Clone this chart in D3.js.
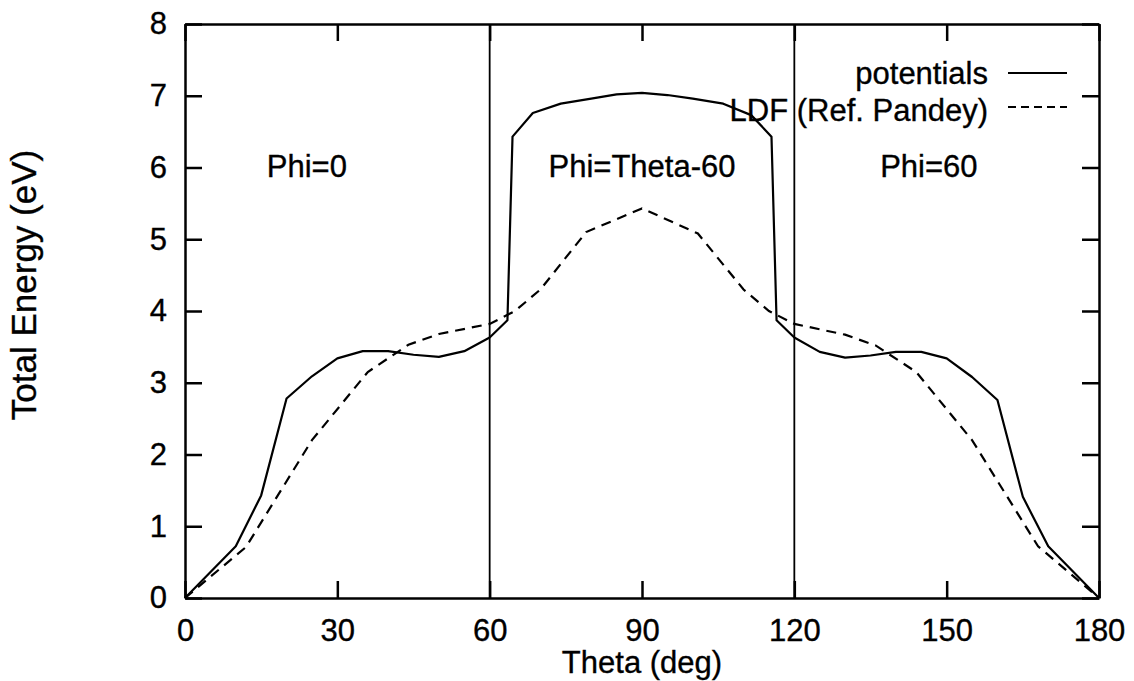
<!DOCTYPE html>
<html>
<head>
<meta charset="utf-8">
<script src="https://cdn.jsdelivr.net/npm/d3@7"></script>
<style>
	body { margin: 0; background: #fff; }
	svg { display: block; font-family: "Liberation Sans", Arial, sans-serif; }
	.axis path, .axis line { stroke: #000; }
	text { stroke: #000; stroke-width: 0.35px; }
</style>
</head>
<body>
<svg id="chart" width="1134" height="681"></svg>
<script>
// theta (deg) / total energy (eV)
const potTheta = [0, 10, 15, 20, 25, 30, 35, 40, 45, 50, 55, 60, 63.5, 64.5, 68.5, 74, 80, 85, 90,
	95, 100, 106, 111.5, 115.5, 116.5, 120, 125, 130, 135, 140, 145, 150, 155, 160, 165, 170, 180];
const potEnergy = [0, 0.72, 1.43, 2.78, 3.09, 3.34, 3.44, 3.44, 3.39, 3.36, 3.44, 3.63, 3.87, 6.43, 6.76, 6.89, 6.96, 7.02, 7.04,
	7.01, 6.96, 6.89, 6.73, 6.43, 3.87, 3.63, 3.43, 3.35, 3.38, 3.43, 3.43, 3.34, 3.08, 2.76, 1.41, 0.72, 0];

const ldfTheta = [0, 12, 25, 36, 44, 50, 60, 65, 70, 79, 90, 101, 110, 115, 120, 130, 136, 144, 155, 168, 180];
const ldfEnergy = [0, 0.71, 2.2, 3.15, 3.53, 3.68, 3.82, 4.0, 4.3, 5.1, 5.43, 5.08, 4.3, 4.0, 3.82, 3.67, 3.52, 3.15, 2.2, 0.72, 0];

const xTicks = [0, 30, 60, 90, 120, 150, 180];
const yTicks = [0, 1, 2, 3, 4, 5, 6, 7, 8];
const dividers = [60, 120];

const regionLabels = ["Phi=0", "Phi=Theta-60", "Phi=60"];
const regionLabelTheta = [24, 90, 146.5];
const legendNames = ["potentials", "LDF (Ref. Pandey)"];

const svg = d3.select("#chart");
const fontSize = 31;

const x = d3.scaleLinear().domain([0, 180]).range([185, 1099]);
const y = d3.scaleLinear().domain([0, 8]).range([598, 24]);

/**
 * @param  {object} axis d3 axis
 * @param  {string} transform group transform
 */
function drawAxis(axis, transform) {
	const g = svg.append("g").attr("class", "axis").attr("transform", transform).call(axis);
	g.select(".domain").attr("stroke-width", 2.5);
	g.selectAll(".tick line").attr("stroke-width", 2.5);
	g.selectAll("text").attr("font-size", fontSize).attr("font-family", "Liberation Sans, Arial, sans-serif").attr("fill", "#000");
	return g;
}

drawAxis(d3.axisBottom(x).tickValues(xTicks).tickSizeInner(-17).tickSizeOuter(0).tickPadding(21), `translate(0,${y(0)})`);
drawAxis(d3.axisTop(x).tickValues(xTicks).tickSizeInner(-17).tickSizeOuter(0).tickFormat(""), `translate(0,${y(8)})`);
drawAxis(d3.axisLeft(y).tickValues(yTicks).tickSizeInner(-17).tickSizeOuter(0).tickPadding(18), `translate(${x(0)},0)`);
drawAxis(d3.axisRight(y).tickValues(yTicks).tickSizeInner(-17).tickSizeOuter(0).tickFormat(""), `translate(${x(180)},0)`);

// region dividers
svg.selectAll(".divider").data(dividers).join("line")
	.attr("class", "divider")
	.attr("x1", d => x(d)).attr("x2", d => x(d))
	.attr("y1", y(0)).attr("y2", y(8))
	.attr("stroke", "#000").attr("stroke-width", 1.8);

const line = d3.line().x(d => x(d[0])).y(d => y(d[1]));

svg.append("path")
	.datum(d3.zip(potTheta, potEnergy))
	.attr("d", line)
	.attr("fill", "none").attr("stroke", "#000").attr("stroke-width", 2.2)
	.attr("stroke-linejoin", "round");

svg.append("path")
	.datum(d3.zip(ldfTheta, ldfEnergy))
	.attr("d", line)
	.attr("fill", "none").attr("stroke", "#000").attr("stroke-width", 2.2)
	.attr("stroke-dasharray", "10,7");

// region labels
svg.selectAll(".region").data(regionLabels).join("text")
	.attr("class", "region")
	.attr("x", (d, i) => x(regionLabelTheta[i]))
	.attr("y", 177)
	.attr("text-anchor", "middle")
	.attr("font-size", fontSize)
	.text(d => d);

// legend
const legend = svg.append("g");
const rows = [{ y: 84, lineY: 73, dash: null }, { y: 121, lineY: 107, dash: "8,5" }];
legendNames.forEach((name, i) => {
	legend.append("text")
		.attr("x", 988).attr("y", rows[i].y)
		.attr("text-anchor", "end")
		.attr("font-size", fontSize)
		.text(name);
	legend.append("line")
		.attr("x1", 1008).attr("x2", 1067)
		.attr("y1", rows[i].lineY).attr("y2", rows[i].lineY)
		.attr("stroke", "#000").attr("stroke-width", 2)
		.attr("stroke-dasharray", rows[i].dash);
});

// axis titles
svg.append("text")
	.attr("x", 642).attr("y", 673)
	.attr("text-anchor", "middle")
	.attr("font-size", fontSize)
	.text("Theta (deg)");

svg.append("text")
	.attr("transform", "translate(36,285) rotate(-90)")
	.attr("text-anchor", "middle")
	.attr("font-size", 35)
	.text("Total Energy (eV)");
</script>
</body>
</html>
